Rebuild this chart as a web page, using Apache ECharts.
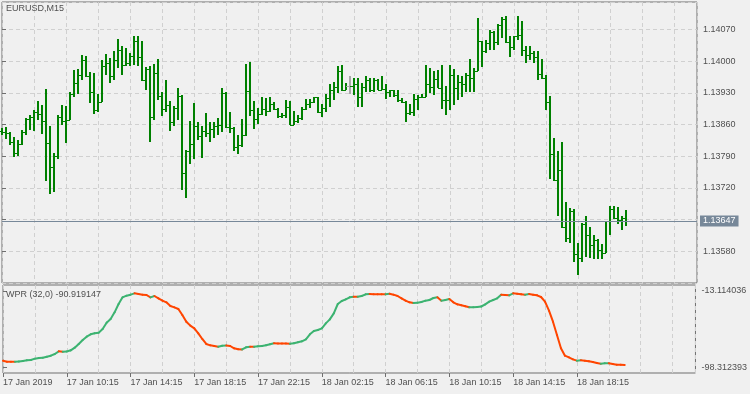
<!DOCTYPE html>
<html><head><meta charset="utf-8">
<script src="https://cdn.jsdelivr.net/npm/echarts@6/dist/echarts.min.js"></script>
<style>html,body{margin:0;padding:0;background:#f0f0f0}#c{width:750px;height:394px}</style>
</head><body><div id="c"></div>
<script>
const symbolText = 'EURUSD,M15';
const wprText = 'WPR (32,0) -90.919147';
const open = [1.13846,1.13844,1.13842,1.13821,1.13798,1.13817,1.13844,1.13873,1.13877,1.13888,
1.13883,1.13869,1.13820,1.13767,1.13790,1.13877,1.13869,1.13871,1.13928,1.13952,
1.13970,1.14002,1.13968,1.13931,1.13893,1.13911,1.13990,1.13996,1.13968,1.14002,
1.14024,1.13992,1.13997,1.14012,1.14044,1.14009,1.13958,1.13983,1.13876,1.13975,
1.13924,1.13895,1.13904,1.13865,1.13897,1.13924,1.13753,1.13801,1.13817,1.13856,
1.13834,1.13847,1.13841,1.13851,1.13856,1.13859,1.13930,1.13854,1.13853,1.13811,
1.13814,1.13838,1.13934,1.13893,1.13873,1.13884,1.13895,1.13891,1.13906,1.13895,
1.13878,1.13881,1.13900,1.13860,1.13869,1.13875,1.13895,1.13906,1.13911,1.13920,
1.13889,1.13897,1.13919,1.13937,1.13943,1.13979,1.13937,1.13946,1.13946,1.13950,
1.13921,1.13943,1.13959,1.13937,1.13958,1.13937,1.13939,1.13933,1.13936,1.13926,
1.13915,1.13911,1.13886,1.13888,1.13917,1.13921,1.13922,1.13950,1.13943,1.13961,
1.13942,1.13914,1.13915,1.13970,1.13941,1.13955,1.13950,1.13970,1.13963,1.13979,
1.14044,1.14022,1.14040,1.14064,1.14042,1.14080,1.14093,1.14042,1.14031,1.14055,
1.14058,1.14025,1.14014,1.14019,1.14009,1.13972,1.13963,1.13909,1.13794,1.13737,
1.13759,1.13634,1.13610,1.13670,1.13575,1.13566,1.13641,1.13617,1.13595,1.13606,
1.13583,1.13577,1.13647,1.13674,1.13654,1.13649,1.13654];
const high = [1.13852,1.13854,1.13844,1.13832,1.13827,1.13849,1.13875,1.13882,1.13893,1.13913,
1.13904,1.13939,1.13856,1.13798,1.13882,1.13904,1.13902,1.13931,1.13981,1.13983,
1.14014,1.14011,1.13976,1.13975,1.13928,1.14003,1.14017,1.14007,1.14023,1.14049,
1.14033,1.14030,1.14018,1.14056,1.14055,1.14045,1.13987,1.13990,1.13994,1.14005,
1.13931,1.13959,1.13913,1.13902,1.13941,1.13925,1.13803,1.13869,1.13908,1.13865,
1.13858,1.13886,1.13865,1.13866,1.13875,1.13942,1.13932,1.13888,1.13854,1.13838,
1.13873,1.13995,1.13998,1.13913,1.13897,1.13921,1.13919,1.13921,1.13909,1.13896,
1.13886,1.13915,1.13913,1.13891,1.13881,1.13899,1.13917,1.13917,1.13921,1.13922,
1.13906,1.13928,1.13950,1.13955,1.13990,1.13992,1.13953,1.13968,1.13963,1.13963,
1.13953,1.13967,1.13964,1.13962,1.13961,1.13968,1.13950,1.13937,1.13937,1.13936,
1.13919,1.13912,1.13906,1.13928,1.13926,1.13928,1.13991,1.13985,1.13979,1.13981,
1.13992,1.13946,1.13992,1.13983,1.13970,1.13968,1.13975,1.14005,1.13985,1.14095,
1.14045,1.14047,1.14069,1.14068,1.14083,1.14097,1.14099,1.14055,1.14056,1.14100,
1.14090,1.14034,1.14033,1.14022,1.14022,1.14005,1.13970,1.13924,1.13831,1.13801,
1.13821,1.13689,1.13676,1.13674,1.13598,1.13643,1.13659,1.13634,1.13617,1.13607,
1.13597,1.13648,1.13681,1.13681,1.13678,1.13658,1.13671];
const low = [1.13838,1.13829,1.13816,1.13788,1.13790,1.13816,1.13838,1.13849,1.13847,1.13871,
1.13840,1.13735,1.13707,1.13712,1.13785,1.13860,1.13819,1.13870,1.13922,1.13928,
1.13958,1.13966,1.13907,1.13884,1.13889,1.13910,1.13969,1.13951,1.13959,1.13985,
1.13969,1.13990,1.13989,1.13992,1.13989,1.13956,1.13937,1.13821,1.13871,1.13915,
1.13880,1.13889,1.13845,1.13856,1.13870,1.13715,1.13697,1.13773,1.13783,1.13827,
1.13786,1.13832,1.13821,1.13831,1.13838,1.13843,1.13853,1.13841,1.13801,1.13796,
1.13811,1.13834,1.13878,1.13850,1.13862,1.13882,1.13880,1.13889,1.13892,1.13875,
1.13875,1.13875,1.13859,1.13859,1.13864,1.13871,1.13893,1.13897,1.13908,1.13886,
1.13877,1.13887,1.13900,1.13915,1.13930,1.13935,1.13936,1.13928,1.13926,1.13900,
1.13900,1.13933,1.13933,1.13933,1.13936,1.13936,1.13917,1.13922,1.13922,1.13909,
1.13908,1.13865,1.13881,1.13878,1.13892,1.13919,1.13921,1.13930,1.13926,1.13941,
1.13894,1.13881,1.13893,1.13904,1.13915,1.13922,1.13931,1.13933,1.13933,1.13978,
1.13987,1.14018,1.14025,1.14024,1.14036,1.14051,1.14040,1.14009,1.14025,1.14047,
1.14011,1.13997,1.14003,1.13997,1.13959,1.13961,1.13892,1.13739,1.13735,1.13659,
1.13632,1.13601,1.13599,1.13556,1.13528,1.13556,1.13568,1.13566,1.13564,1.13564,
1.13564,1.13577,1.13615,1.13651,1.13640,1.13627,1.13637];
const close = [1.13844,1.13842,1.13821,1.13798,1.13817,1.13844,1.13872,1.13877,1.13888,1.13883,
1.13869,1.13820,1.13767,1.13790,1.13877,1.13869,1.13871,1.13928,1.13952,1.13970,
1.14002,1.13968,1.13931,1.13893,1.13911,1.13990,1.13996,1.13968,1.14002,1.14024,
1.13992,1.13997,1.14012,1.14044,1.14009,1.13958,1.13983,1.13876,1.13975,1.13924,
1.13895,1.13904,1.13865,1.13897,1.13924,1.13753,1.13801,1.13817,1.13856,1.13834,
1.13847,1.13841,1.13851,1.13856,1.13859,1.13930,1.13854,1.13853,1.13811,1.13814,
1.13838,1.13934,1.13893,1.13873,1.13884,1.13895,1.13891,1.13906,1.13895,1.13878,
1.13881,1.13900,1.13860,1.13869,1.13875,1.13895,1.13906,1.13911,1.13920,1.13889,
1.13897,1.13919,1.13937,1.13943,1.13979,1.13937,1.13946,1.13946,1.13950,1.13921,
1.13943,1.13959,1.13937,1.13958,1.13937,1.13939,1.13933,1.13936,1.13926,1.13915,
1.13911,1.13886,1.13888,1.13917,1.13921,1.13922,1.13950,1.13943,1.13961,1.13942,
1.13914,1.13915,1.13970,1.13941,1.13955,1.13950,1.13970,1.13963,1.13979,1.14044,
1.14022,1.14040,1.14064,1.14042,1.14080,1.14093,1.14042,1.14031,1.14055,1.14058,
1.14025,1.14014,1.14019,1.14009,1.13972,1.13963,1.13909,1.13794,1.13737,1.13759,
1.13634,1.13610,1.13670,1.13575,1.13566,1.13641,1.13617,1.13595,1.13606,1.13583,
1.13577,1.13647,1.13674,1.13654,1.13649,1.13654,1.13647];
const wpr = [-90.90,-92.02,-92.09,-92.13,-91.94,-91.27,-90.53,-90.16,-88.67,-87.92,
-87.55,-86.44,-85.32,-83.46,-80.48,-80.85,-80.67,-79.36,-76.39,-72.29,
-67.83,-64.10,-61.50,-60.38,-59.64,-55.54,-48.47,-44.38,-36.93,-27.63,
-20.18,-18.32,-17.21,-15.72,-16.46,-17.21,-17.58,-20.18,-18.70,-21.30,
-23.91,-25.77,-29.86,-31.35,-33.21,-39.91,-47.36,-51.82,-54.80,-60.38,
-66.71,-72.29,-73.78,-74.53,-75.27,-74.15,-73.97,-74.53,-77.13,-78.25,
-78.43,-76.01,-75.27,-75.46,-74.90,-74.53,-73.78,-72.66,-71.55,-71.66,
-71.77,-71.85,-71.92,-71.55,-70.43,-69.32,-67.08,-61.50,-57.78,-56.66,
-54.80,-49.22,-44.75,-38.05,-27.63,-24.28,-22.42,-20.18,-19.44,-19.55,
-18.70,-16.83,-16.54,-16.61,-16.69,-16.76,-16.83,-16.28,-17.21,-18.70,
-21.30,-23.91,-25.77,-26.51,-26.14,-25.40,-23.91,-23.16,-20.93,-20.18,
-23.91,-23.16,-22.05,-25.77,-28.00,-29.12,-30.23,-31.35,-31.16,-30.98,
-30.42,-28.00,-25.02,-23.16,-21.30,-17.21,-17.58,-17.95,-15.72,-16.09,
-16.83,-17.21,-16.46,-17.21,-17.95,-19.81,-25.02,-35.07,-47.36,-62.24,
-77.13,-85.32,-87.18,-89.41,-90.90,-90.53,-91.01,-91.65,-92.39,-93.51,
-94.25,-93.88,-93.70,-94.63,-95.37,-95.56,-95.74];
const timeTickIndex = [0,16,32,48,64,80,96,112,128,144];
const timeTickLabels = ['17 Jan 2019','17 Jan 10:15','17 Jan 14:15','17 Jan 18:15','17 Jan 22:15',
  '18 Jan 02:15','18 Jan 06:15','18 Jan 10:15','18 Jan 14:15','18 Jan 18:15'];
const priceAxisMin = 1.13510, priceAxisMax = 1.14131, priceStep = 0.0007;
const wprScaleMax = -13.114036, wprScaleMin = -98.312393;
const wprAxisMax = -6.41, wprAxisMin = -104.68;
const xAxisMax = 173.75, gridStep = 8;

const FONT = "'Liberation Sans', Arial, sans-serif";
const TXT = '#505050';
const BORDER = '#6e6e6e';
const GRIDC = '#d0d0d0';
const lastPrice = close[close.length - 1];

const ohlc = open.map((o, i) => [i, o, high[i], low[i], close[i]]);
const segs = [];
let dir = -1;
for (let i = 1; i < wpr.length; i++) {
  const d = wpr[i] - wpr[i - 1];
  if (d > 0) dir = 1; else if (d < 0) dir = -1;
  segs.push([i - 1, i, wpr[i - 1], wpr[i], dir]);
}

function renderBar(params, api) {
  const x = api.value(0), o = api.value(1), h = api.value(2), l = api.value(3), c = api.value(4);
  const ph = api.coord([x, h]), pl = api.coord([x, l]), po = api.coord([x, o]), pc = api.coord([x, c]);
  const cx = Math.round(ph[0]);
  const col = o === c ? '#a8a8a8' : '#008000';
  const yh = Math.round(ph[1]), yl = Math.round(pl[1]);
  return {type: 'group', children: [
    {type: 'rect', shape: {x: cx - 1, y: yh, width: 2, height: Math.max(1, yl - yh)}, style: {fill: col}},
    {type: 'rect', shape: {x: cx - 4, y: Math.round(po[1]), width: 3, height: 1}, style: {fill: col}},
    {type: 'rect', shape: {x: cx + 1, y: Math.round(pc[1]), width: 3, height: 1}, style: {fill: col}}
  ]};
}
function renderWpr(params, api) {
  const a = api.coord([api.value(0), api.value(2)]);
  const b = api.coord([api.value(1), api.value(3)]);
  return {type: 'line', shape: {x1: a[0], y1: a[1], x2: b[0], y2: b[1]},
    style: {stroke: api.value(4) > 0 ? '#3cb371' : '#ff4500', lineWidth: 2, lineCap: 'round'}};
}

const splitStyle = {show: true, lineStyle: {color: GRIDC, width: 1, type: [4, 3]}};
const chart = echarts.init(document.getElementById('c'), null, {renderer: 'canvas'});
chart.setOption({
  animation: false,
  backgroundColor: '#f0f0f0',
  title: [
    {text: symbolText, left: 6, top: 4, padding: 0, textStyle: {fontSize: 9, fontWeight: 'normal', color: TXT, fontFamily: FONT}},
    {text: wprText, left: 6, top: 290, padding: 0, textStyle: {fontSize: 9, fontWeight: 'normal', color: TXT, fontFamily: FONT}}
  ],
  grid: [
    {left: 2, top: 2, width: 695, height: 281, show: true, borderColor: BORDER, borderWidth: 1, backgroundColor: 'transparent'},
    {left: 2, top: 285, width: 695, height: 88, show: true, borderColor: BORDER, borderWidth: 1, backgroundColor: 'transparent'}
  ],
  xAxis: [
    {gridIndex: 0, type: 'value', min: 0, max: xAxisMax, interval: gridStep, axisLine: {show: false}, axisTick: {show: false}, axisLabel: {show: false}, splitLine: splitStyle},
    {gridIndex: 1, type: 'value', min: 0, max: xAxisMax, interval: gridStep, axisLine: {show: false}, axisTick: {show: false}, axisLabel: {show: false}, splitLine: splitStyle},
    {gridIndex: 1, type: 'value', min: 0, max: xAxisMax, position: 'bottom', axisLine: {show: false}, splitLine: {show: false},
      axisTick: {show: true, customValues: timeTickIndex, length: 4, lineStyle: {color: BORDER}},
      axisLabel: {show: true, customValues: timeTickIndex, align: 'left', margin: 5, color: TXT, fontSize: 9, fontFamily: FONT,
        formatter: v => { const k = timeTickIndex.indexOf(Math.round(v)); return k >= 0 ? timeTickLabels[k] : ''; }}}
  ],
  yAxis: [
    {gridIndex: 0, type: 'value', position: 'right', min: priceAxisMin, max: priceAxisMax, interval: priceStep,
      axisLine: {show: false}, axisTick: {show: true, length: 4, lineStyle: {color: BORDER}},
      axisLabel: {showMinLabel: false, showMaxLabel: false, margin: 6, color: TXT, fontSize: 9, fontFamily: FONT, formatter: v => v.toFixed(5)},
      splitLine: splitStyle},
    {gridIndex: 1, type: 'value', position: 'right', min: wprAxisMin, max: wprAxisMax,
      axisLine: {show: false}, splitLine: {show: false},
      axisTick: {show: true, customValues: [wprScaleMin, wprScaleMax], length: 4, lineStyle: {color: BORDER}},
      axisLabel: {customValues: [wprScaleMin, wprScaleMax], margin: 6, color: TXT, fontSize: 9, fontFamily: FONT, formatter: v => v.toFixed(6)}}
  ],
  series: [
    {type: 'line', name: 'last', xAxisIndex: 0, yAxisIndex: 0, data: [], silent: true, z: 1,
      markLine: {silent: true, symbol: 'none', animation: false, precision: 5, emphasis: {disabled: true},
        data: [{yAxis: lastPrice}],
        lineStyle: {color: '#778899', width: 1, type: 'solid'},
        label: {show: true, position: 'end', distance: 3, formatter: lastPrice.toFixed(5), backgroundColor: '#778899',
          color: '#ffffff', padding: [1, 3, 1, 3], fontSize: 9, lineHeight: 9, fontFamily: FONT}}},
    {type: 'custom', name: 'EURUSD', xAxisIndex: 0, yAxisIndex: 0, data: ohlc, encode: {x: 0, y: [1, 2, 3, 4]},
      renderItem: renderBar, silent: true, z: 3},
    {type: 'custom', name: 'WPR', xAxisIndex: 1, yAxisIndex: 1, data: segs, encode: {x: [0, 1], y: [2, 3]},
      renderItem: renderWpr, silent: true}
  ]
});
</script></body></html>
